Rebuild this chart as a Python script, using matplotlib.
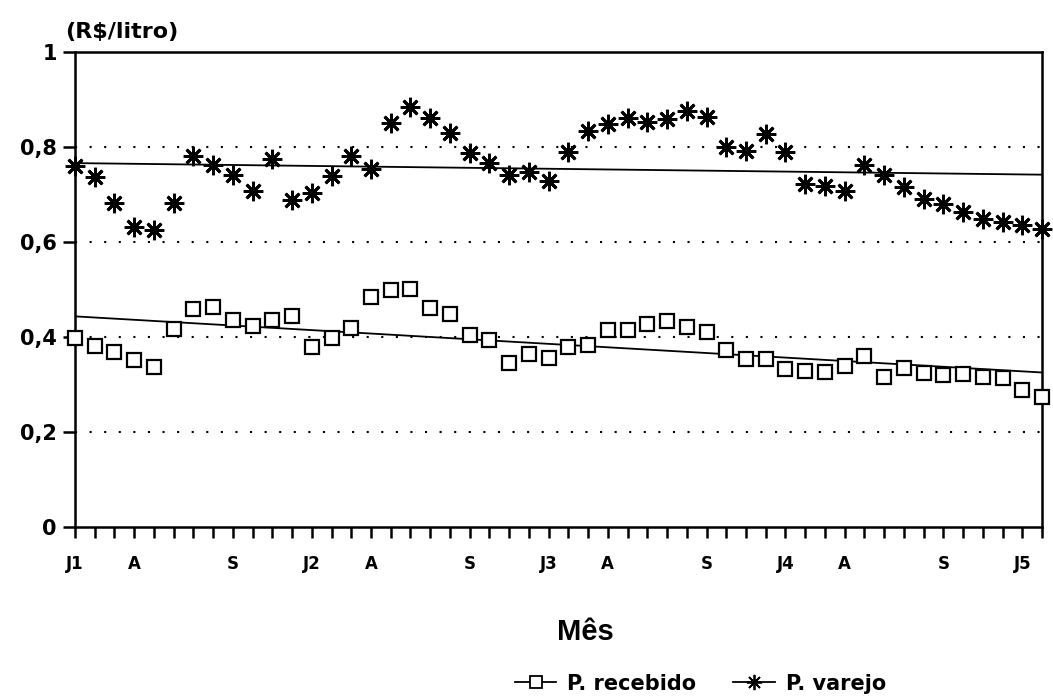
import numpy as np
import matplotlib
matplotlib.use("Agg")
import matplotlib.pyplot as plt

# monthly prices, J1 .. F5 (50 months)
recebido = [0.397, 0.380, 0.369, 0.352, 0.337, 0.416, 0.459, 0.464, 0.436, 0.423,
            0.436, 0.444, 0.378, 0.397, 0.418, 0.484, 0.498, 0.501, 0.462, 0.448,
            0.404, 0.394, 0.346, 0.364, 0.355, 0.378, 0.383, 0.415, 0.415, 0.427,
            0.434, 0.422, 0.411, 0.373, 0.353, 0.353, 0.333, 0.328, 0.326, 0.339,
            0.360, 0.315, 0.335, 0.324, 0.320, 0.322, 0.315, 0.313, 0.288, 0.274]
varejo = [0.759, 0.736, 0.683, 0.632, 0.625, 0.683, 0.781, 0.762, 0.740, 0.707,
          0.775, 0.688, 0.703, 0.739, 0.782, 0.754, 0.850, 0.885, 0.862, 0.829,
          0.787, 0.767, 0.741, 0.748, 0.728, 0.790, 0.834, 0.848, 0.862, 0.852,
          0.858, 0.876, 0.864, 0.801, 0.792, 0.827, 0.790, 0.722, 0.718, 0.708,
          0.762, 0.741, 0.715, 0.691, 0.681, 0.664, 0.648, 0.643, 0.636, 0.627]

tick_pos = [0, 3, 8, 12, 15, 20, 24, 27, 32, 36, 39, 44, 48]
tick_lab = ["J1", "A", "S", "J2", "A", "S", "J3", "A", "S", "J4", "A", "S", "J5"]
y_ticks = [0, 0.2, 0.4, 0.6, 0.8, 1]
y_labs = ["0", "0,2", "0,4", "0,6", "0,8", "1"]

x = np.arange(len(recebido))

fig = plt.figure(figsize=(10.53, 6.97), dpi=100)
ax = fig.add_axes([0.0712, 0.2439, 0.9184, 0.6815])

for lev in [0.2, 0.4, 0.6, 0.8]:
    ax.axhline(lev, color="black", lw=1.5, linestyle=(0, (1, 6)), zorder=1)

# linear trends
for s in [recebido, varejo]:
    b, a = np.polyfit(x, s, 1)
    ax.plot(x, a + b * x, color="black", lw=1.3, zorder=2)

ax.plot(x, recebido, linestyle="none", marker="s", markersize=10,
        markerfacecolor="white", markeredgecolor="black", markeredgewidth=1.6,
        zorder=3, clip_on=False)
ax.plot(x, varejo, linestyle="none", marker=(8, 2, 0), markersize=14,
        color="black", markeredgewidth=2, zorder=3, clip_on=False)

ax.set_xlim(0, 49)
ax.set_ylim(0, 1)
labels = [""] * 50
for p, l in zip(tick_pos, tick_lab):
    labels[p] = l
ax.set_xticks(np.arange(0, 50))
ax.set_xticklabels(labels, fontsize=12, fontweight="bold", family="DejaVu Sans")
ax.tick_params(axis="x", direction="out", length=8, width=1.8, pad=12)
ax.set_yticks(y_ticks)
ax.set_yticklabels(y_labs, fontsize=15, fontweight="bold", family="DejaVu Sans")
ax.tick_params(axis="y", direction="out", length=9, width=1.8, pad=4)
for sp in ax.spines.values():
    sp.set_linewidth(1.8)

fig.text(0.062, 0.94, "(R$/litro)", fontsize=16, fontweight="bold",
         family="DejaVu Sans", ha="left", va="bottom")
fig.text(0.556, 0.093, "Mês", fontsize=21, fontweight="bold", family="Liberation Sans",
         ha="center", va="center")

h1, = ax.plot([], [], color="black", lw=1.3, marker="s", markersize=8,
              markerfacecolor="white", markeredgewidth=1.3)
h2, = ax.plot([], [], color="black", lw=1.3, marker=(8, 2, 0), markersize=11,
              markeredgewidth=1.3)
fig.legend([h1, h2], ["P. recebido", "P. varejo"], loc="lower center",
           bbox_to_anchor=(0.665, -0.022), ncol=2, frameon=False, handlelength=2,
           columnspacing=1.8, handletextpad=0.5,
           prop={"family": "DejaVu Sans", "weight": "bold", "size": 15})

fig.savefig("out.png", dpi=100)
